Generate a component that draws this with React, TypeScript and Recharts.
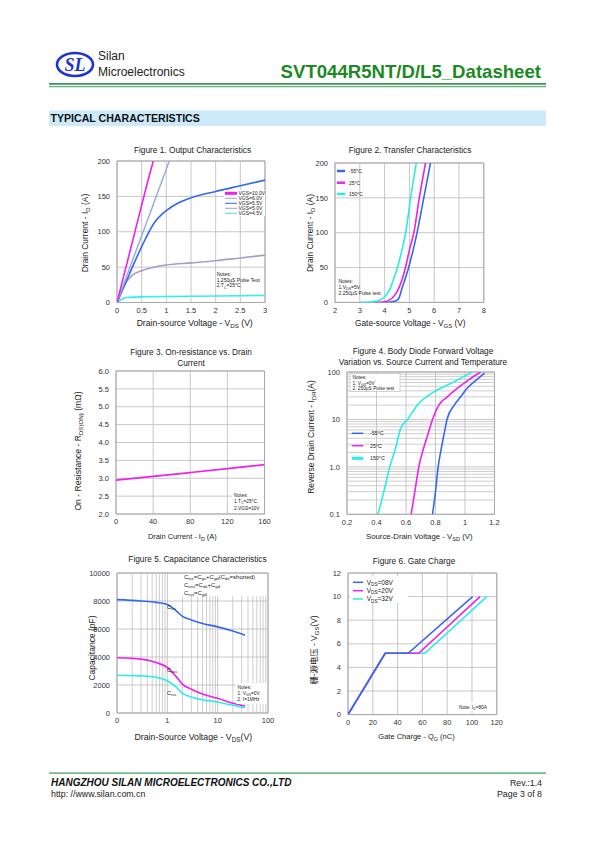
import React from "react";
import { LineChart, Line, XAxis, YAxis, CartesianGrid, ReferenceArea, ReferenceLine } from "recharts";

const FONT = "'Liberation Sans', Arial, Helvetica, sans-serif";
const CJK = "'Liberation Sans', 'Noto Sans CJK SC', sans-serif";
const GRID = "#c2c2c2";
const FRAME = "#a8a8a8";
const TXT = "#222";
const MAG = "#f020ec";
const BLUE = "#3767ee";
const CYAN = "#24eeee";

// ---------- Figure 1: Output characteristics (VDS V, ID A) ----------
const f1Vgs10 = [[0, 0], [0.2, 55], [0.4, 110], [0.6, 165], [0.735, 200]];
const f1Vgs6 = [[0, 0], [0.3, 57], [0.6, 113], [0.8, 151], [1.06, 200]];
const f1Vgs55 = [[0, 0], [0.25, 40], [0.5, 79], [0.75, 112], [1.0, 130], [1.25, 141], [1.5, 148], [2.0, 157], [2.5, 165], [3.0, 173]];
const f1Vgs5 = [[0, 0], [0.1, 17], [0.2, 30], [0.3, 38], [0.5, 45], [0.75, 50], [1.0, 53], [1.5, 56], [2.0, 59], [2.5, 63], [3.0, 67]];
const f1Vgs45 = [[0, 0], [0.1, 5], [0.2, 7], [0.5, 8], [1.0, 8.5], [2.0, 9.2], [3.0, 10]];
const f1XTicks = [0, 0.5, 1, 1.5, 2, 2.5, 3];
const f1YTicks = [0, 50, 100, 150, 200];

// ---------- Figure 2: Transfer characteristics (VGS V, ID A) ----------
const f2Tm55 = [[4.0, 0], [4.3, 1], [4.5, 3], [4.6, 8], [4.7, 20], [4.85, 36], [4.97, 50], [5.15, 75], [5.31, 100], [5.58, 150], [5.85, 200]];
const f2T25 = [[3.6, 0], [4.0, 1], [4.3, 6], [4.5, 15], [4.7, 32], [4.84, 50], [5.0, 75], [5.18, 100], [5.4, 150], [5.65, 200]];
const f2T150 = [[3.0, 0], [3.5, 1], [3.8, 3], [4.0, 8], [4.2, 18], [4.35, 32], [4.5, 48], [4.7, 75], [4.85, 100], [5.05, 150], [5.28, 200]];
const f2XTicks = [2, 3, 4, 5, 6, 7, 8];
const f2YTicks = [0, 50, 100, 150, 200];

// ---------- Figure 3: On-resistance vs drain current ----------
const f3Id = [0, 40, 80, 120, 160];
const f3Rds = [2.95, 3.05, 3.16, 3.27, 3.38];
const f3XTicks = [0, 40, 80, 120, 160];
const f3YTicks = [2.0, 2.5, 3.0, 3.5, 4.0, 4.5, 5.0, 5.5, 6.0];

// ---------- Figure 4: Body diode forward voltage (VSD V, IDR A, log) ----------
const f4Tm55 = [[0.78, 0.1], [0.8, 0.3], [0.818, 1], [0.84, 2.5], [0.863, 5.9], [0.878, 10], [0.927, 20], [0.97, 30], [1.013, 45], [1.07, 65], [1.133, 95]];
const f4T25 = [[0.635, 0.1], [0.66, 0.3], [0.687, 1], [0.72, 2.5], [0.75, 5], [0.775, 9], [0.822, 20], [0.88, 30], [0.947, 45], [1.03, 70], [1.105, 100]];
const f4T150 = [[0.41, 0.1], [0.45, 0.3], [0.49, 1], [0.53, 2.5], [0.563, 6.4], [0.61, 10], [0.676, 20], [0.789, 38], [0.902, 57], [1.05, 100]];
const f4XTicks = [0.2, 0.4, 0.6, 0.8, 1.0, 1.2];
const f4YTicks = [0.1, 1, 10, 100];
const f4YMinor = [0.2, 0.3, 0.4, 0.5, 0.6, 0.7, 0.8, 0.9, 2, 3, 4, 5, 6, 7, 8, 9, 20, 30, 40, 50, 60, 70, 80, 90];

// ---------- Figure 5: Capacitance (VDS V log, pF) ----------
const f5Vds = [0.1, 0.3, 0.6, 1, 1.5, 2, 3, 5, 10, 20, 35];
const f5Ciss = [8100, 8000, 7900, 7750, 7300, 6900, 6650, 6400, 6150, 5850, 5550];
const f5Coss = [3950, 3850, 3600, 3250, 2600, 2050, 1700, 1350, 1050, 700, 500];
const f5Crss = [2700, 2650, 2550, 2300, 1850, 1400, 1150, 950, 780, 550, 380];
const f5XTicks = [0.1, 1, 10, 100];
const f5YTicks = [0, 2000, 4000, 6000, 8000, 10000];
const f5XMinor = [0.2, 0.3, 0.4, 0.5, 0.6, 0.7, 0.8, 0.9, 2, 3, 4, 5, 6, 7, 8, 9, 20, 30, 40, 50, 60, 70, 80, 90];

// ---------- Figure 6: Gate charge (QG nC, VGS V) ----------
const f6Vds08 = [[0, 0], [30, 5.2], [48.5, 5.2], [100.5, 10]];
const f6Vds20 = [[0, 0], [30, 5.2], [57, 5.2], [106.5, 10]];
const f6Vds32 = [[0, 0], [30, 5.2], [62, 5.2], [112, 10]];
const f6XTicks = [0, 20, 40, 60, 80, 100, 120];
const f6YTicks = [0, 2, 4, 6, 8, 10, 12];

type Pt = { x: number; y: number };
const pts = (a: number[][]): Pt[] => a.map(([x, y]) => ({ x, y }));
const zip = (xs: number[], ys: number[]): Pt[] => xs.map((x, i) => ({ x, y: ys[i] }));

const YW = 40, MT = 6, MR = 14, XH = 20;
function frame(x0: number, y0: number, x1: number, y1: number) {
  return { left: x0 - YW, top: y0 - MT, width: x1 - x0 + YW + MR, height: y1 - y0 + MT + XH };
}

const tickStyle = { fontSize: 7.5, fill: "#333", fontFamily: FONT };

function Chart({ b, children }: { b: any; children: any }) {
  return (
    <div style={{ position: "absolute", left: b.left, top: b.top }}>
      <LineChart width={b.width} height={b.height} margin={{ top: MT, right: MR, left: 0, bottom: 0 }}>
        {children}
      </LineChart>
    </div>
  );
}

function xAxis(domain: number[], ticks: number[], extra: any = {}) {
  return (
    <XAxis type="number" dataKey="x" domain={domain} ticks={ticks} allowDataOverflow height={XH}
      tickLine={false} axisLine={false} tick={tickStyle} tickSize={5} tickMargin={0} interval={0} {...extra} />
  );
}
function yAxis(domain: number[], ticks: number[], extra: any = {}) {
  return (
    <YAxis type="number" dataKey="y" domain={domain} ticks={ticks} allowDataOverflow width={YW}
      tickLine={false} axisLine={false} tick={tickStyle} tickSize={6} tickMargin={1} interval={0} {...extra} />
  );
}
function series(data: Pt[], color: string, w = 1.6, type: any = "monotone", key?: string) {
  return (
    <Line key={key} data={data} dataKey="y" type={type} stroke={color} strokeWidth={w} dot={false}
      activeDot={false} isAnimationActive={false} />
  );
}

// text helpers
function parts(ps: any[], s: number) {
  const out: any[] = [];
  let down = false;
  ps.forEach((p, i) => {
    if (typeof p === "string") {
      out.push(<tspan key={i} dy={down ? -s * 0.22 : 0}>{p}</tspan>);
      down = false;
    } else {
      out.push(<tspan key={i} fontSize={s * 0.72} dy={down ? 0 : s * 0.22}>{p.s}</tspan>);
      down = true;
    }
  });
  return out;
}
function T({ x, y, s = 8.3, a = "start", w, it, fill = TXT, rot, fam = FONT, p }: any) {
  return (
    <text x={x} y={y} fontSize={s} textAnchor={a} fontWeight={w} fontStyle={it ? "italic" : undefined}
      fill={fill} fontFamily={fam} transform={rot ? `rotate(-90 ${x} ${y})` : undefined}>
      {typeof p === "string" ? p : parts(p, s)}
    </text>
  );
}

const B1 = frame(116.5, 161, 264.5, 302.5);
const B2 = frame(334.5, 163.3, 483.3, 302.7);
const B3 = frame(116, 370.5, 264.5, 513.5);
const B4 = frame(346.5, 371.7, 494, 514);
const B5 = frame(116.7, 573.3, 267.7, 713.3);
const B6 = frame(347.7, 572.7, 496.5, 714.3);

export default function App() {
  return (
    <div style={{ position: "absolute", left: 0, top: 0, width: 595, height: 842, background: "#fff", overflow: "hidden" }}>
      {/* Figure 1 */}
      <Chart b={B1}>
        <CartesianGrid stroke={GRID} strokeWidth={0.9} />
        {xAxis([0, 3], f1XTicks)}
        {yAxis([0, 200], f1YTicks)}
        <ReferenceArea x1={0} x2={3} y1={0} y2={200} fill="none" stroke={FRAME} strokeWidth={1} fillOpacity={0} />
        {series(pts(f1Vgs45), "#2ef0f0", 1.6, "monotone", "a")}
        {series(pts(f1Vgs5), "#a99bcb", 1.6, "monotone", "b")}
        {series(pts(f1Vgs55), BLUE, 1.6, "monotone", "c")}
        {series(pts(f1Vgs6), "#93abd8", 1.4, "monotone", "d")}
        {series(pts(f1Vgs10), MAG, 1.6, "monotone", "e")}
      </Chart>

      {/* Figure 2 */}
      <Chart b={B2}>
        <CartesianGrid stroke={GRID} strokeWidth={0.9} />
        {xAxis([2, 8], f2XTicks)}
        {yAxis([0, 200], f2YTicks)}
        <ReferenceArea x1={2} x2={8} y1={0} y2={200} fill="none" stroke={FRAME} strokeWidth={1} fillOpacity={0} />
        {series(pts(f2Tm55), BLUE, 1.6, "monotone", "a")}
        {series(pts(f2T25), MAG, 1.6, "monotone", "b")}
        {series(pts(f2T150), CYAN, 1.6, "monotone", "c")}
      </Chart>

      {/* Figure 3 */}
      <Chart b={B3}>
        <CartesianGrid stroke={GRID} strokeWidth={0.9} />
        {xAxis([0, 160], f3XTicks)}
        {yAxis([2, 6], f3YTicks, { tickFormatter: (v: number) => v.toFixed(1) })}
        <ReferenceArea x1={0} x2={160} y1={2} y2={6} fill="none" stroke={FRAME} strokeWidth={1} fillOpacity={0} />
        {series(zip(f3Id, f3Rds), MAG, 1.7, "monotone", "a")}
      </Chart>

      {/* Figure 4 */}
      <Chart b={B4}>
        <CartesianGrid stroke={GRID} strokeWidth={0.9} />
        {xAxis([0.2, 1.2], f4XTicks, { tickFormatter: (v: number) => (v === 1 ? "1" : String(v)) })}
        {yAxis([0.1, 100], f4YTicks, { scale: "log", tickFormatter: (v: number) => (v === 1 ? "1.0" : String(v)) })}
        {f4YMinor.map((v) => (
          <ReferenceLine key={"m" + v} y={v} stroke={GRID} strokeWidth={0.8} />
        ))}
        <ReferenceArea x1={0.2} x2={1.2} y1={0.1} y2={100} fill="none" stroke={FRAME} strokeWidth={1} fillOpacity={0} />
        {series(pts(f4Tm55), BLUE, 1.6, "monotone", "a")}
        {series(pts(f4T25), MAG, 1.6, "monotone", "b")}
        {series(pts(f4T150), CYAN, 1.6, "monotone", "c")}
      </Chart>

      {/* Figure 5 */}
      <Chart b={B5}>
        <CartesianGrid stroke={GRID} strokeWidth={0.9} />
        {xAxis([0.1, 100], f5XTicks, { scale: "log", tickFormatter: (v: number) => (v === 0.1 ? "0" : String(v)) })}
        {yAxis([0, 10000], f5YTicks)}
        {f5XMinor.map((v) => (
          <ReferenceLine key={"m" + v} x={v} stroke={GRID} strokeWidth={0.8} />
        ))}
        <ReferenceArea x1={0.1} x2={100} y1={0} y2={10000} fill="none" stroke={FRAME} strokeWidth={1} fillOpacity={0} />
        {series(zip(f5Vds, f5Ciss), BLUE, 1.6, "monotone", "a")}
        {series(zip(f5Vds, f5Coss), MAG, 1.6, "monotone", "b")}
        {series(zip(f5Vds, f5Crss), CYAN, 1.6, "monotone", "c")}
      </Chart>

      {/* Figure 6 */}
      <Chart b={B6}>
        <CartesianGrid stroke={GRID} strokeWidth={0.9} />
        {xAxis([0, 120], f6XTicks)}
        {yAxis([0, 12], f6YTicks)}
        <ReferenceArea x1={0} x2={120} y1={0} y2={12} fill="none" stroke={FRAME} strokeWidth={1} fillOpacity={0} />
        {series(pts(f6Vds32), CYAN, 1.6, "linear", "c")}
        {series(pts(f6Vds20), MAG, 1.6, "linear", "b")}
        {series(pts(f6Vds08), BLUE, 1.6, "linear", "a")}
      </Chart>

      {/* Overlay: page text, titles, labels, legends */}
      <svg width={595} height={842} style={{ position: "absolute", left: 0, top: 0 }}>
        {/* header */}
        <ellipse cx={75} cy={64.5} rx={18} ry={11.5} fill="none" stroke="#1d33d4" strokeWidth={2.6} />
        <text x={75} y={71} fontSize={18} fontStyle="italic" fontWeight="bold" textAnchor="middle" fill="#1d33d4"
          fontFamily="'Liberation Serif', serif">SL</text>
        <T x={98} y={60} s={12} p="Silan" />
        <T x={98} y={76} s={12} p="Microelectronics" />
        <T x={541} y={77.5} s={18.6} w="bold" a="end" fill="#1b8a24" p="SVT044R5NT/D/L5_Datasheet" />
        <rect x={49} y={83} width={497} height={1.8} fill="#3c9a5c" />
        <rect x={49} y={86.2} width={497} height={1} fill="#3c9a5c" />
        <rect x={49} y={110.5} width={497} height={15.5} fill="#cdeafb" />
        <T x={50.5} y={121.8} s={10.6} w="bold" fill="#111" p="TYPICAL CHARACTERISTICS" />

        {/* Figure 1 texts */}
        <T x={192.5} y={152.7} a="middle" p="Figure 1. Output Characteristics" />
        <T x={88} y={233} s={8.45} a="middle" rot p={["Drain Current - I", { s: "D" }, " (A)"]} />
        <T x={194.7} y={326} s={8.6} a="middle" p={["Drain-source Voltage - V", { s: "DS" }, " (V)"]} />
        <rect x={224} y={190} width={41} height={26} fill="#fff" />
        <line x1={225} x2={237} y1={193.3} y2={193.3} stroke={MAG} strokeWidth={3} />
        <line x1={225} x2={237} y1={198.3} y2={198.3} stroke="#93abd8" strokeWidth={1} />
        <line x1={225} x2={237} y1={203.3} y2={203.3} stroke={BLUE} strokeWidth={1} />
        <line x1={225} x2={237} y1={208.3} y2={208.3} stroke="#a99bcb" strokeWidth={1} />
        <line x1={225} x2={237} y1={213.3} y2={213.3} stroke={CYAN} strokeWidth={1} />
        <T x={238.5} y={195.1} s={5} p="VGS=10.0V" />
        <T x={238.5} y={200.1} s={5} p="VGS=6.0V" />
        <T x={238.5} y={205.1} s={5} p="VGS=5.5V" />
        <T x={238.5} y={210.1} s={5} p="VGS=5.0V" />
        <T x={238.5} y={215.1} s={5} p="VGS=4.5V" />
        <T x={216.7} y={276} s={5} p="Notes:" />
        <T x={216.7} y={281.7} s={5} p="1.250μS Pulse Test" />
        <T x={216.7} y={287.4} s={5} p={["2.T", { s: "C" }, "=25°C"]} />

        {/* Figure 2 texts */}
        <T x={410} y={152.7} a="middle" p="Figure 2. Transfer Characteristics" />
        <T x={313} y={233} s={8.4} a="middle" rot p={["Drain Current - I", { s: "D" }, " (A)"]} />
        <T x={410.3} y={325.7} s={8.3} a="middle" p={["Gate-source Voltage - V", { s: "GS" }, " (V)"]} />
        <line x1={337} x2={345} y1={171} y2={171} stroke={BLUE} strokeWidth={2.5} />
        <line x1={337} x2={345} y1={182.7} y2={182.7} stroke={MAG} strokeWidth={2.5} />
        <line x1={337} x2={345} y1={194} y2={194} stroke={CYAN} strokeWidth={2.5} />
        <T x={349} y={172.8} s={5} p="-55°C" />
        <T x={349} y={184.5} s={5} p="25°C" />
        <T x={349} y={195.8} s={5} p="150°C" />
        <T x={338.5} y={283.4} s={5} p="Notes:" />
        <T x={338.5} y={289} s={5} p={["1.V", { s: "DS" }, "=5V"]} />
        <T x={338.5} y={295} s={5} p="2.250μS Pulse test" />

        {/* Figure 3 texts */}
        <T x={191} y={355} a="middle" p="Figure 3. On-resistance vs. Drain" />
        <T x={191} y={365.7} a="middle" p="Current" />
        <T x={81} y={451} s={8.6} a="middle" rot p={["On - Resistance - R", { s: "DS(ON)" }, " (mΩ)"]} />
        <T x={182.3} y={539.3} s={7.4} a="middle" p={["Drain Current - I", { s: "D" }, " (A)"]} />
        <rect x={232} y={490} width={31.5} height={22.5} fill="#fff" />
        <T x={234} y={497.4} s={4.8} p="Notes:" />
        <T x={234} y={503.4} s={4.8} p={["1.T", { s: "C" }, "=25°C"]} />
        <T x={234} y={509.6} s={4.8} p="2.VGS=10V" />

        {/* Figure 4 texts */}
        <T x={423} y={354.3} a="middle" p="Figure 4. Body Diode Forward Voltage" />
        <T x={423} y={365} a="middle" p="Variation vs. Source Current and Temperature" />
        <T x={314} y={437} s={8.4} a="middle" rot p={["Reverse Drain Current - I", { s: "DR" }, "(A)"]} />
        <T x={419.3} y={539.3} s={7.8} a="middle" p={["Source-Drain Voltage - V", { s: "SD" }, " (V)"]} />
        <rect x={350} y={373.5} width={50} height={18} fill="#fff" stroke="#aaa" strokeWidth={0.5} />
        <T x={352.5} y={379} s={4.8} p="Notes:" />
        <T x={352.5} y={384.5} s={4.8} p={["1. V", { s: "GS" }, "=0V"]} />
        <T x={352.5} y={390} s={4.8} p="2. 250μS Pulse test" />
        <line x1={351.7} x2={363.3} y1={433.3} y2={433.3} stroke={BLUE} strokeWidth={1.5} />
        <line x1={351.7} x2={363.3} y1={445.7} y2={445.7} stroke={MAG} strokeWidth={1.5} />
        <line x1={351.7} x2={363.3} y1={458.3} y2={458.3} stroke={CYAN} strokeWidth={3} />
        <T x={370} y={435.2} s={5.3} p="-55°C" />
        <T x={370} y={447.6} s={5.3} p="25°C" />
        <T x={370} y={460.2} s={5.3} p="150°C" />

        {/* Figure 5 texts */}
        <T x={197.5} y={561.7} a="middle" p="Figure 5. Capacitance Characteristics" />
        <T x={95} y={648} s={8.5} a="middle" rot p="Capacitance (pF)" />
        <T x={193.3} y={740} s={8.8} a="middle" p={["Drain-Source Voltage - V", { s: "DS" }, "(V)"]} />
        <rect x={182} y={574} width={85} height={22} fill="#fff" />
        <T x={184} y={579} s={6} p={["C", { s: "iss" }, "=C", { s: "gs" }, "+C", { s: "gd" }, "(C", { s: "ds" }, "=shorted)"]} />
        <T x={184} y={587} s={6} p={["C", { s: "oss" }, "=C", { s: "ds" }, "+C", { s: "gd" }]} />
        <T x={184} y={595} s={6} p={["C", { s: "rss" }, "=C", { s: "gd" }]} />
        <T x={167} y={609} s={5.5} p={["C", { s: "iss" }]} />
        <T x={167} y={671.5} s={5.5} p={["C", { s: "oss" }]} />
        <T x={167} y={694.5} s={5.5} p={["C", { s: "rss" }]} />
        <rect x={236} y={683} width={31} height={21} fill="#fff" />
        <T x={237.5} y={688.5} s={4.8} p="Notes:" />
        <T x={237.5} y={694.6} s={4.8} p={["1. V", { s: "GS" }, "=0V"]} />
        <T x={237.5} y={700.8} s={4.8} p="2. f=1MHz" />

        {/* Figure 6 texts */}
        <T x={414} y={564} a="middle" p="Figure 6. Gate Charge" />
        <T x={317} y={650} s={8.4} a="middle" rot fam={CJK} p={["栅-源电压 - V", { s: "GS" }, "(V)"]} />
        <T x={416.5} y={739} s={7.5} a="middle" p={["Gate Charge - Q", { s: "G" }, " (nC)"]} />
        <rect x={350} y={576} width={58} height={27} fill="#fff" />
        <line x1={353} x2={363} y1={582.3} y2={582.3} stroke={BLUE} strokeWidth={1.5} />
        <line x1={353} x2={363} y1={590.7} y2={590.7} stroke={MAG} strokeWidth={1.5} />
        <line x1={353} x2={363} y1={599} y2={599} stroke={CYAN} strokeWidth={1.5} />
        <T x={366.7} y={584.6} s={6.5} p={["V", { s: "DS" }, "=08V"]} />
        <T x={366.7} y={593} s={6.5} p={["V", { s: "DS" }, "=20V"]} />
        <T x={366.7} y={601.3} s={6.5} p={["V", { s: "DS" }, "=32V"]} />
        <rect x={457} y={702} width={38} height={9} fill="#fff" />
        <T x={459} y={708.5} s={4.8} p={["Note:  I", { s: "D" }, "=80A"]} />

        {/* footer */}
        <rect x={49} y={772.5} width={497} height={1.2} fill="#3c9a5c" />
        <T x={51} y={785.5} s={10} w="bold" it fill="#111" p="HANGZHOU SILAN MICROELECTRONICS CO.,LTD" />
        <T x={51} y={796.5} s={8.8} p="http: //www.silan.com.cn" />
        <T x={542} y={785.5} s={8.8} a="end" p="Rev.:1.4" />
        <T x={542} y={796.5} s={8.8} a="end" p="Page 3 of 8" />
      </svg>
    </div>
  );
}
